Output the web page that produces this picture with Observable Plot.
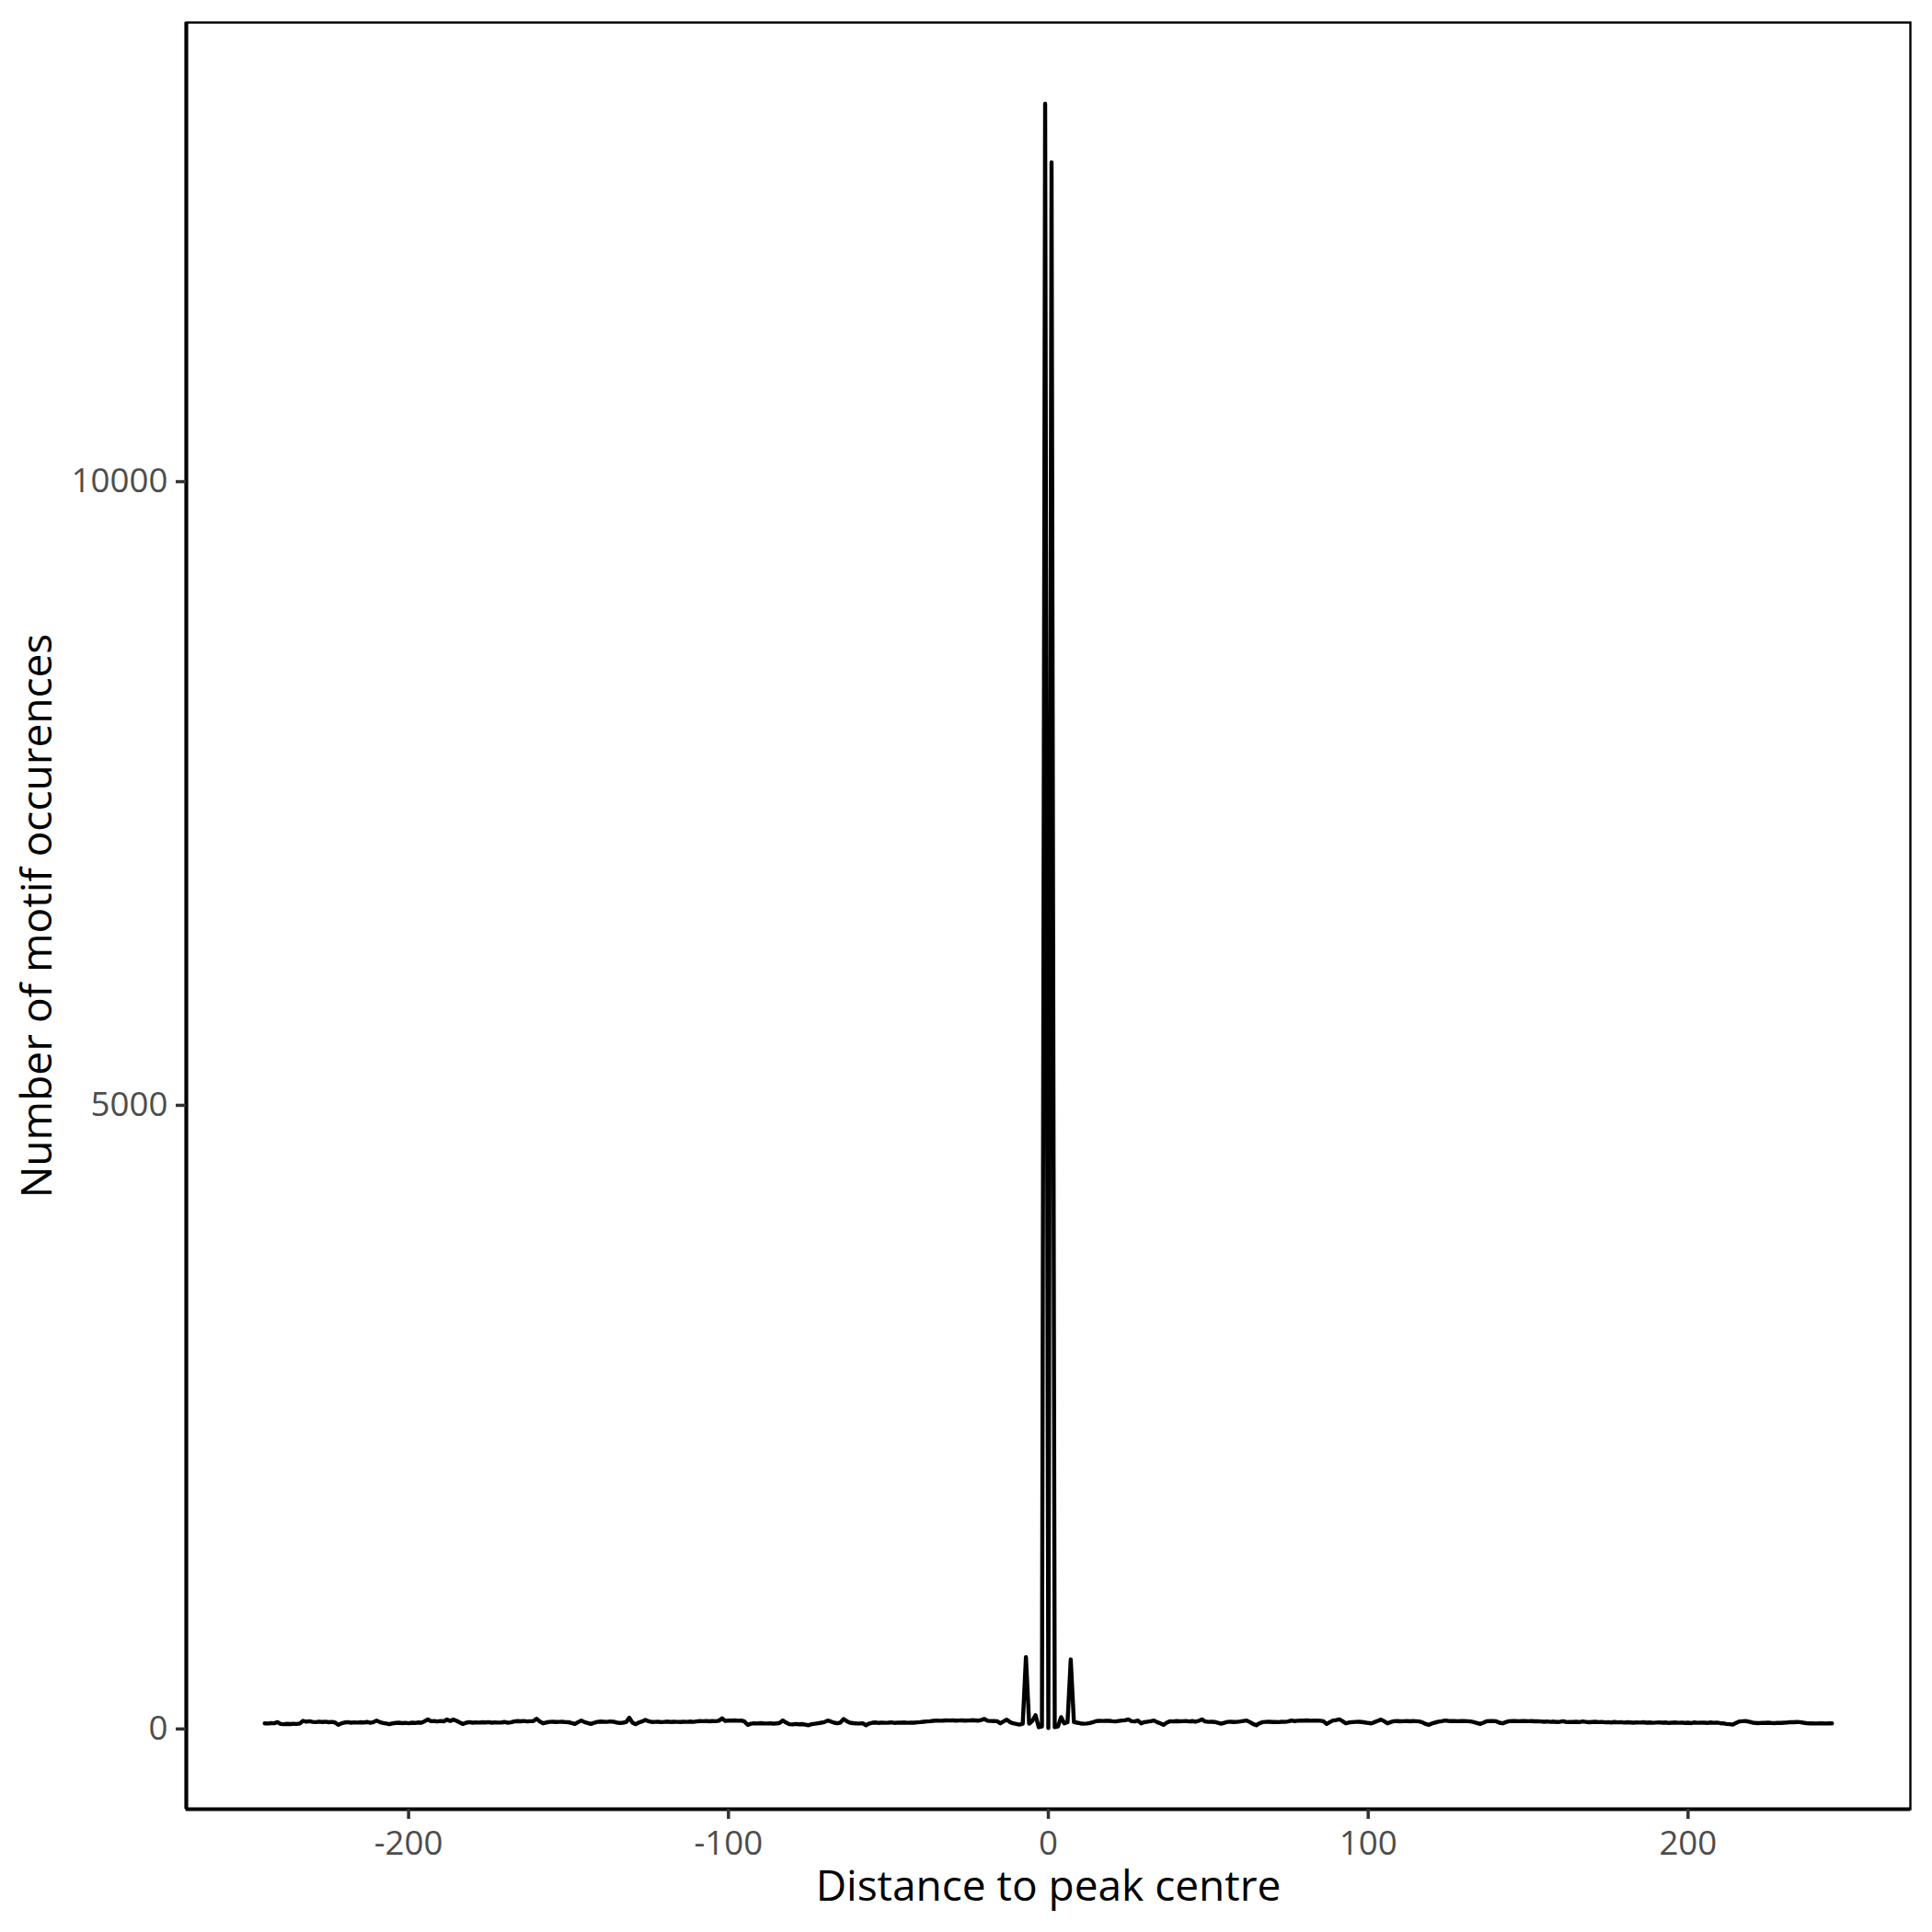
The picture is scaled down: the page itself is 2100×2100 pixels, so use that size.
<!DOCTYPE html>
<html>
<head>
<meta charset="utf-8">
<script src="https://cdn.jsdelivr.net/npm/d3@7"></script>
<script src="https://cdn.jsdelivr.net/npm/@observablehq/plot@0.6"></script>
<style>
  html, body { margin: 0; padding: 0; background: #ffffff; }
  #chart { width: 2100px; height: 2100px; }
</style>
</head>
<body>
<div id="chart"></div>
<script>
// Distance to peak centre (bp), one position per integer from -245 to 245
const distances = d3.range(-245, 246);

// Number of motif occurrences at each distance
const counts = [
  45,44,47,46,55,40,38,41,39,42,      // -245
  40,44,65,58,62,57,55,59,56,58,      // -235
  54,57,52,33,45,52,55,50,53,51,      // -225
  54,52,56,49,55,68,55,48,44,38,      // -215
  45,48,50,47,49,46,50,48,52,50,      // -205
  62,76,62,63,60,64,61,76,64,75,      // -195
  65,52,40,50,55,50,53,51,54,52,      // -185
  55,50,53,51,52,56,50,53,60,63,      // -175
  61,64,60,62,63,82,60,45,52,57,      // -165
  58,56,57,58,55,54,48,40,55,68,      // -155
  55,48,40,50,57,59,58,57,60,58,      // -145
  52,48,50,55,90,50,38,52,60,72,      // -135
  62,56,57,58,55,57,59,56,58,57,      // -125
  56,58,57,59,57,60,63,62,64,61,      // -115
  63,62,66,85,64,68,67,69,66,68,      // -105
  60,33,42,46,44,47,45,44,46,43,      // -95
  45,48,68,52,38,36,40,37,39,35,      // -85
  30,38,42,46,50,55,68,60,50,45,      // -75
  52,80,62,50,47,45,44,45,30,44,      // -65
  50,52,48,51,49,50,53,48,51,50,      // -55
  52,49,51,50,53,55,58,60,62,65,      // -45
  68,66,67,69,68,70,67,68,69,67,      // -35
  68,70,69,67,72,80,66,64,63,62,      // -25
  45,60,75,55,45,40,35,42,577,42,     // -15
  65,110,14,20,13030,8,12560,14,20,95,// -5
  45,55,557,55,50,45,42,44,48,55,     // 5
  63,65,64,66,65,62,60,64,68,70,      // 15
  77,62,60,68,45,55,58,62,68,55,      // 25
  45,33,50,62,60,63,61,62,64,60,      // 35
  63,58,65,77,60,57,58,56,50,42,      // 45
  50,57,58,56,57,60,64,68,55,40,      // 55
  30,45,55,57,58,56,57,55,58,57,      // 65
  60,68,63,66,68,67,69,66,68,67,      // 75
  66,62,40,55,68,72,77,62,45,52,      // 85
  55,57,58,56,52,48,45,55,65,75,      // 95
  62,45,55,62,63,61,62,64,61,63,      // 105
  62,60,52,40,33,45,52,58,62,68,      // 115
  65,63,64,62,63,64,62,60,55,48,      // 125
  40,50,62,63,64,62,50,45,55,62,      // 135
  63,64,62,63,64,62,63,61,62,60,      // 145
  58,60,57,59,56,58,62,55,57,56,      // 155
  58,55,60,57,54,56,58,55,57,53,      // 165
  55,52,56,53,55,51,54,52,50,53,      // 175
  51,54,50,52,49,51,53,50,52,48,      // 185
  50,52,49,51,48,50,47,52,49,51,      // 195
  50,48,52,49,51,47,45,40,38,35,      // 205
  48,60,62,63,58,52,48,47,49,48,      // 215
  50,48,47,49,48,50,52,55,54,56,      // 225
  55,50,47,45,46,44,45,46,44,45,      // 235
  45                                  // 245
];

const xTicks = [-200, -100, 0, 100, 200];
const yTicks = [0, 5000, 10000];
const xTitle = "Distance to peak centre";
const yTitle = "Number of motif occurences";

const data = distances.map((d, i) => ({distance: d, count: counts[i]}));

function expand(ext, f = 0.05) {
  const r = ext[1] - ext[0];
  return [ext[0] - r * f, ext[1] + r * f];
}
const xDomain = expand(d3.extent(distances));
const yDomain = expand(d3.extent(counts));

const W = 2100, H = 2100;
const mL = 202, mR = 24, mT = 24, mB = 134;
const tickFont = 36.7, titleFont = 46;

const chart = Plot.plot({
  width: W,
  height: H,
  marginLeft: mL,
  marginRight: mR,
  marginTop: mT,
  marginBottom: mB,
  style: {background: "#ffffff", fontFamily: "'Open Sans', 'Noto Sans', sans-serif"},
  x: {domain: xDomain},
  y: {domain: yDomain},
  marks: [
    Plot.frame({stroke: "#000000", strokeWidth: 2.4}),
    Plot.line(data, {x: "distance", y: "count", stroke: "#000000", strokeWidth: 4.4, strokeLinejoin: "round"}),
    Plot.ruleX([xDomain[0]], {stroke: "#000000", strokeWidth: 4.2}),
    Plot.ruleY([yDomain[0]], {stroke: "#000000", strokeWidth: 4.2}),
    Plot.axisX({ticks: xTicks, tickSize: 11, tickPadding: 12, fontSize: tickFont, stroke: "#333333", strokeWidth: 3.5, fill: "#4D4D4D", tickFormat: d => String(d), label: null}),
    Plot.axisY({ticks: yTicks, tickSize: 11, tickPadding: 9, fontSize: tickFont, stroke: "#333333", strokeWidth: 3.5, fill: "#4D4D4D", tickFormat: d => String(d), label: null}),
    Plot.text([xTitle], {frameAnchor: "bottom", textAnchor: "middle", dy: 99, fontSize: titleFont, fill: "#000000", text: d => d}),
    Plot.text([yTitle], {frameAnchor: "left", textAnchor: "middle", lineAnchor: "middle", dx: -161, rotate: -90, fontSize: titleFont, fill: "#000000", text: d => d})
  ]
});

document.getElementById("chart").appendChild(chart);
</script>
</body>
</html>
